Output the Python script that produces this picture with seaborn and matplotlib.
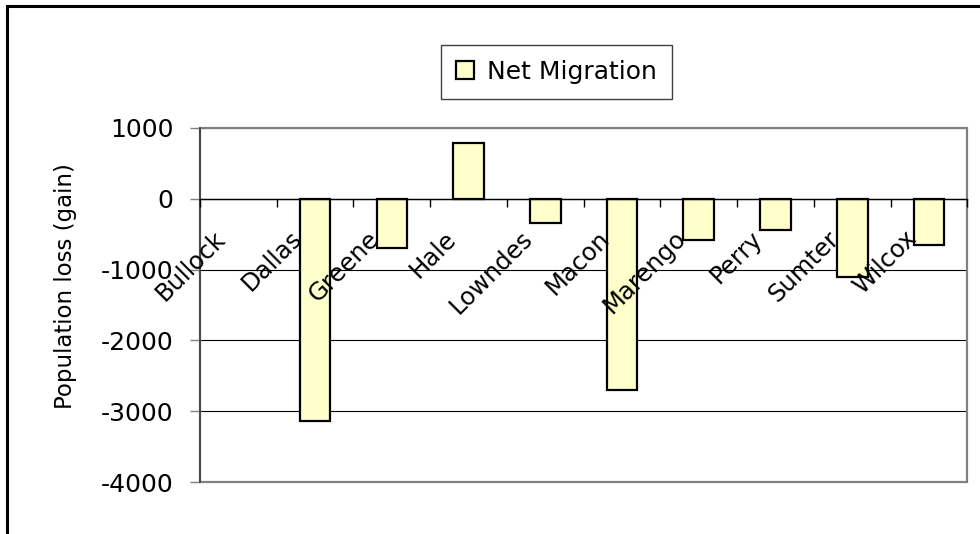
import numpy as np
import pandas as pd
import matplotlib
matplotlib.use("Agg")
import matplotlib.pyplot as plt
from matplotlib.patches import Rectangle
from matplotlib.transforms import ScaledTranslation
import seaborn as sns

# County-level net migration (Bullock has no reported value)
counties = ["Bullock", "Dallas", "Greene", "Hale", "Lowndes",
            "Macon", "Marengo", "Perry", "Sumter", "Wilcox"]
net_migration = [np.nan, -3140, -690, 790, -350, -2700, -590, -440, -1110, -660]
series_name = "Net Migration"
y_ticks = [1000, 0, -1000, -2000, -3000, -4000]
y_label = "Population loss (gain)"

df = pd.DataFrame({"county": counties, "value": net_migration})

sns.set_style("white")
plt.rcParams["font.family"] = ["DejaVu Sans"]
plt.rcParams["text.color"] = "black"
plt.rcParams["axes.labelcolor"] = "black"
plt.rcParams["xtick.color"] = "black"
plt.rcParams["ytick.color"] = "black"

fig = plt.figure(figsize=(9.8, 5.34), dpi=100)
ax = fig.add_axes([0.2041, 0.0968, 0.7830, 0.6641])

sns.barplot(data=df, x="county", y="value", order=counties, ax=ax,
            color="#FFFFCC", saturation=1, edgecolor="black", linewidth=1.6,
            width=0.4, label=series_name, zorder=2)

ax.set_xlim(-0.5, len(counties) - 0.5)
ax.set_ylim(min(y_ticks), max(y_ticks))
ax.set_yticks(y_ticks)
ax.set_yticklabels([str(t) for t in y_ticks])

# horizontal gridlines
ax.yaxis.grid(True, color="black", linewidth=0.8)
ax.xaxis.grid(False)
ax.yaxis.set_zorder(0.5)
ax.xaxis.set_zorder(5)

# category axis sits on the zero line, with ticks between categories
ax.spines["bottom"].set_position(("data", 0))
ax.spines["bottom"].set_color("black")
ax.spines["bottom"].set_linewidth(1.0)
ax.spines["bottom"].set_zorder(4)
ax.spines["left"].set_color("#404040")
ax.spines["left"].set_linewidth(1.2)
ax.spines["top"].set_visible(False)
ax.spines["right"].set_visible(False)

# grey plot-area frame
ax.add_patch(Rectangle((0, 0), 1, 1, transform=ax.transAxes, fill=False,
                       edgecolor="#808080", linewidth=1.6, zorder=1,
                       clip_on=False))

ax.set_xticks(np.arange(-0.5, len(counties), 1.0), minor=True)
ax.tick_params(axis="x", which="minor", direction="out", length=5.5,
               width=1.0, color="black", bottom=True)
ax.tick_params(axis="x", which="major", length=0, pad=20, labelsize=17.5,
               labelcolor="black")
ax.tick_params(axis="y", which="major", direction="out", length=7,
               width=1.0, color="#808080", pad=12, labelsize=18,
               labelcolor="black", left=True)

ax.set_xlabel("")
ax.set_ylabel(y_label, fontsize=16.5, color="black")
ax.yaxis.set_label_coords(-0.160, 0.5536)

offset = ScaledTranslation(-8 / 100, 0, fig.dpi_scale_trans)
for lab in ax.get_xticklabels():
    lab.set_rotation(45)
    lab.set_ha("right")
    lab.set_va("top")
    lab.set_transform(lab.get_transform() + offset)

leg = ax.legend(loc="center", bbox_to_anchor=(0.568, 0.865),
                bbox_transform=fig.transFigure, fontsize=18, frameon=True,
                fancybox=False, edgecolor="#404040", framealpha=1,
                handlelength=0.72, handleheight=0.72, handletextpad=0.5,
                borderpad=0.6)
leg.get_frame().set_linewidth(1.0)
for t in leg.get_texts():
    t.set_color("black")

# outer chart border
fig.add_artist(Rectangle((6.5 / 980, -0.1), 1.2, 0.1 + 1 - 6.5 / 534,
                         transform=fig.transFigure, fill=False,
                         edgecolor="black", linewidth=2.2, clip_on=False))

fig.savefig("out.png", dpi=100)
